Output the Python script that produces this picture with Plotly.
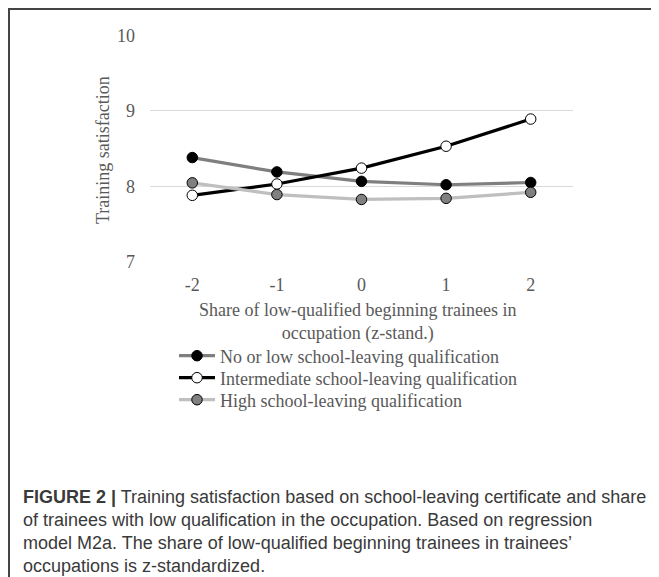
import plotly.graph_objects as go

# ---- data ----
x_vals = [-2, -1, 0, 1, 2]
tick_labels = ["-2", "-1", "0", "1", "2"]
y_ticks = [7, 8, 9, 10]
no_low = [8.38, 8.19, 8.065, 8.02, 8.05]
intermediate = [7.88, 8.03, 8.24, 8.53, 8.89]
high = [8.045, 7.89, 7.825, 7.84, 7.92]
series_names = ["No or low school-leaving qualification",
                "Intermediate school-leaving qualification",
                "High school-leaving qualification"]
caption_lines = [
    "<b>FIGURE 2 |</b> Training satisfaction based on school-leaving certificate and share",
    "of trainees with low qualification in the occupation. Based on regression",
    "model M2a. The share of low-qualified beginning trainees in trainees’",
    "occupations is z-standardized.",
]

OFF = 8  # page body margin
W, H = 659 - OFF, 577 - OFF
# plot area in screen pixels
SL, SR, ST, SB = 150, 573, 35, 262
L, R, T, B = SL - OFF, SR - OFF, ST - OFF, SB - OFF


def px(xs):
    return (xs - OFF - L) / (R - L)


def py(ys):
    return (B - (ys - OFF)) / (B - T)


SERIF = "Liberation Serif, Times New Roman, serif"
SANS = "Liberation Sans, Arial, sans-serif"
GRAY_TXT = "#595959"
FS = 18

fig = go.Figure()
fig.add_trace(go.Scatter(
    x=x_vals, y=no_low, name=series_names[0], mode="lines+markers", legend="legend",
    line=dict(color="#7f7f7f", width=3.2),
    marker=dict(size=10.5, color="#000000", line=dict(color="#000000", width=1))))
fig.add_trace(go.Scatter(
    x=x_vals, y=intermediate, name=series_names[1], mode="lines+markers", legend="legend2",
    line=dict(color="#000000", width=3.2),
    marker=dict(size=10.5, color="#ffffff", line=dict(color="#000000", width=1))))
fig.add_trace(go.Scatter(
    x=x_vals, y=high, name=series_names[2], mode="lines+markers", legend="legend3",
    line=dict(color="#bfbfbf", width=3.2),
    marker=dict(size=10.5, color="#808080", line=dict(color="#000000", width=1))))

annotations = [
    dict(text="Share of low-qualified beginning trainees in<br>occupation (z-stand.)",
         x=px(357), y=py(322), xref="paper", yref="paper", showarrow=False,
         xanchor="center", yanchor="middle",
         font=dict(family=SERIF, size=FS, color=GRAY_TXT), align="center"),
    dict(text="Training satisfaction", x=px(103), y=py(150), xref="paper", yref="paper",
         showarrow=False, textangle=-90, xanchor="center", yanchor="middle",
         font=dict(family=SERIF, size=FS, color=GRAY_TXT)),
]
cap_y = [497, 520, 543, 566]
for line, yy in zip(caption_lines, cap_y):
    annotations.append(dict(text=line, x=px(21), y=py(yy), xref="paper", yref="paper",
                            xanchor="left", yanchor="middle", showarrow=False,
                            font=dict(family=SANS, size=FS, color="#3a3a3a")))

shapes = [
    dict(type="line", xref="paper", yref="paper", x0=px(8), x1=px(700), y0=py(9), y1=py(9),
         line=dict(color="#444444", width=2)),
    dict(type="line", xref="paper", yref="paper", x0=px(9), x1=px(9), y0=py(8), y1=py(700),
         line=dict(color="#444444", width=2)),
]


def leg(ys):
    return dict(x=px(174), y=py(ys), xanchor="left", yanchor="middle",
                font=dict(family=SERIF, size=FS, color=GRAY_TXT),
                bgcolor="rgba(0,0,0,0)", itemwidth=36, borderwidth=0)


fig.update_layout(
    width=W, height=H,
    margin=dict(l=L, r=W - R, t=T, b=H - B, autoexpand=False),
    paper_bgcolor="white", plot_bgcolor="white",
    showlegend=True,
    legend=leg(356), legend2=leg(378), legend3=leg(400),
    annotations=annotations,
    shapes=shapes,
    xaxis=dict(range=[-2.5, 2.5], tickvals=x_vals, ticktext=tick_labels,
               showgrid=False, zeroline=False, showline=False, ticks="",
               ticklabelstandoff=10,
               tickfont=dict(family=SERIF, size=FS, color=GRAY_TXT)),
    yaxis=dict(range=[6.997, 10.003], tickvals=y_ticks, showgrid=True,
               gridcolor="#d9d9d9", gridwidth=1, zeroline=False, showline=False,
               ticks="", ticklabelstandoff=14,
               tickfont=dict(family=SERIF, size=FS, color=GRAY_TXT)),
)

fig.write_html("out.html")
